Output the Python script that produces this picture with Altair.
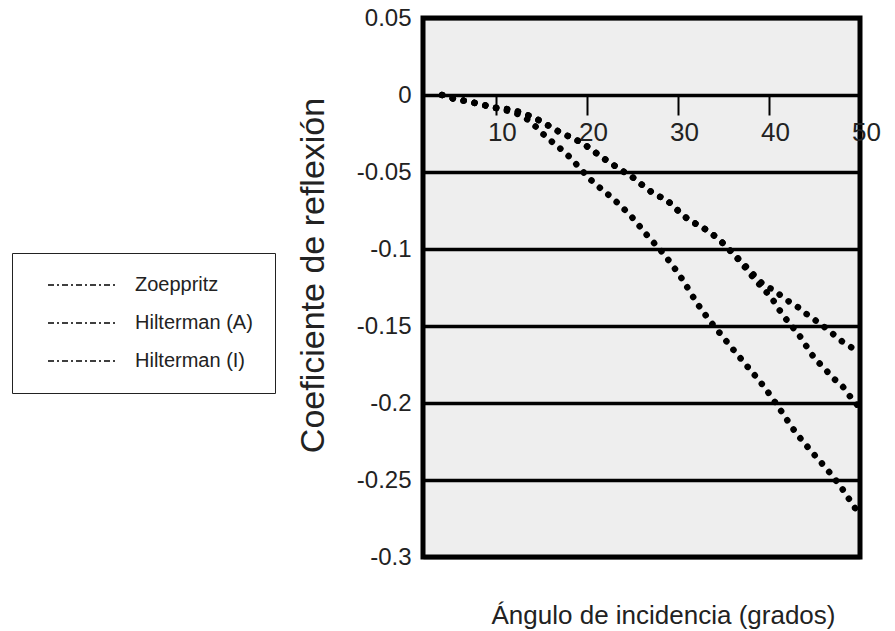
import altair as alt
import pandas as pd

series_names = ["Zoeppritz", "Hilterman (A)", "Hilterman (I)"]

zoe_x = [4.1, 5.5, 6.8, 8.3, 9.7, 12.0, 14.6, 17.0, 19.4, 21.8, 24.1, 25.4, 26.6, 27.7,
         28.9, 30.0, 31.2, 32.4, 33.7, 34.9, 35.9, 37.1, 38.2, 39.4, 40.6, 41.9, 43.0,
         44.3, 45.5, 46.8, 47.8, 49.1, 50.0]
zoe_y = [0.0, -0.0025, -0.004, -0.006, -0.008, -0.010, -0.016, -0.024, -0.031, -0.041,
         -0.050, -0.055, -0.061, -0.065, -0.069, -0.075, -0.081, -0.085, -0.090, -0.096,
         -0.102, -0.109, -0.116, -0.123, -0.127, -0.133, -0.137, -0.143, -0.148, -0.154,
         -0.159, -0.164, -0.167]

hila_x = [4.1, 5.5, 6.8, 8.3, 9.7, 12.0, 14.6, 17.0, 19.4, 21.8, 24.1, 25.4, 26.6, 27.7,
          28.9, 30.0, 31.2, 32.4, 33.7, 34.9, 35.9, 37.1, 38.2, 39.4, 40.3, 41.2, 42.2,
          43.2, 44.1, 44.9, 46.0, 47.1, 48.2, 49.2, 50.0]
hila_y = [0.0, -0.0025, -0.004, -0.006, -0.008, -0.010, -0.016, -0.024, -0.031, -0.041,
          -0.050, -0.055, -0.061, -0.065, -0.069, -0.075, -0.081, -0.085, -0.090, -0.096,
          -0.102, -0.110, -0.118, -0.126, -0.132, -0.140, -0.148, -0.155, -0.163, -0.170,
          -0.177, -0.184, -0.190, -0.198, -0.203]

hili_x = [4.1, 5.5, 6.8, 8.3, 9.7, 13.5, 15.5, 17.7, 20.6, 22.8, 24.9, 26.6, 28.4, 30.4,
          32.2, 35.2, 37.3, 39.4, 41.2, 42.8, 44.6, 46.5, 48.2, 49.2, 49.9]
hili_y = [0.0, -0.0025, -0.004, -0.006, -0.008, -0.016, -0.027, -0.038, -0.056, -0.067,
          -0.079, -0.091, -0.103, -0.119, -0.136, -0.159, -0.174, -0.189, -0.204, -0.218,
          -0.231, -0.244, -0.257, -0.266, -0.272]

x_ticks = [10, 20, 30, 40, 50]
y_ticks = [0.05, 0, -0.05, -0.1, -0.15, -0.2, -0.25, -0.3]

rows = []
for name, xs, ys in zip(series_names, [zoe_x, hila_x, hili_x], [zoe_y, hila_y, hili_y]):
    for i, (a, b) in enumerate(zip(xs, ys)):
        rows.append({"serie": name, "angulo": a, "coef": b, "orden": i})
df = pd.DataFrame(rows)

FONT = "Liberation Sans"

chart = alt.Chart(df).mark_line(
    strokeDash=[0.1, 11], strokeCap="round", strokeWidth=6.5, interpolate="monotone"
).encode(
    x=alt.X("angulo:Q",
            scale=alt.Scale(domain=[2, 50], nice=False, zero=False),
            axis=alt.Axis(values=x_ticks, offset=-462, domain=False, grid=False,
                          ticks=True, tickSize=20, tickWidth=2, tickColor="black",
                          labelFontSize=26, labelFont=FONT, labelColor="#222",
                          labelPadding=4, labelOffset=6, labelFlush=False,
                          labelOverlap=False,
                          title="Ángulo de incidencia (grados)", titleFont=FONT,
                          titleFontSize=26, titleFontWeight="normal", titleColor="#222",
                          titleX=240, titleY=528, titleBaseline="alphabetic")),
    y=alt.Y("coef:Q",
            scale=alt.Scale(domain=[-0.3, 0.05], nice=False, zero=False),
            axis=alt.Axis(values=y_ticks, labelExpr="toString(datum.value)",
                          domain=False, ticks=False, grid=True, gridColor="black",
                          gridWidth=3.5, gridOpacity=1, labelFontSize=24,
                          labelFont=FONT, labelColor="#222", labelPadding=12,
                          labelFlush=False, labelOverlap=False,
                          title="Coeficiente  de reflexión", titleFont=FONT,
                          titleFontSize=34, titleFontWeight="normal", titleColor="#222",
                          titleX=-100, titleY=257, titleBaseline="alphabetic", titleAngle=270)),
    color=alt.Color("serie:N",
                    scale=alt.Scale(domain=series_names, range=["black", "black", "black"]),
                    legend=alt.Legend(orient="none", legendX=-411, legendY=235, title=None,
                                      symbolType="stroke", symbolSize=4900,
                                      symbolStrokeWidth=1.5, symbolDash=[6, 3, 2, 3],
                                      symbolStrokeColor="#777", symbolOffset=13,
                                      clipHeight=20,
                                      labelFont=FONT, labelFontSize=20, labelColor="#222",
                                      labelOffset=16, padding=22, rowPadding=18,
                                      fillColor="white", strokeColor="#222")),
    order="orden:Q",
).properties(
    width=437,
    height=539,
    background="white",
    autosize=alt.AutoSizeParams(type="none"),
    padding={"left": 423, "top": 18, "right": 35, "bottom": 74},
).configure_view(
    fill="#eeeeee", stroke="black", strokeWidth=5
)

chart.save("out.html", embed_options={"renderer": "svg", "actions": False})
